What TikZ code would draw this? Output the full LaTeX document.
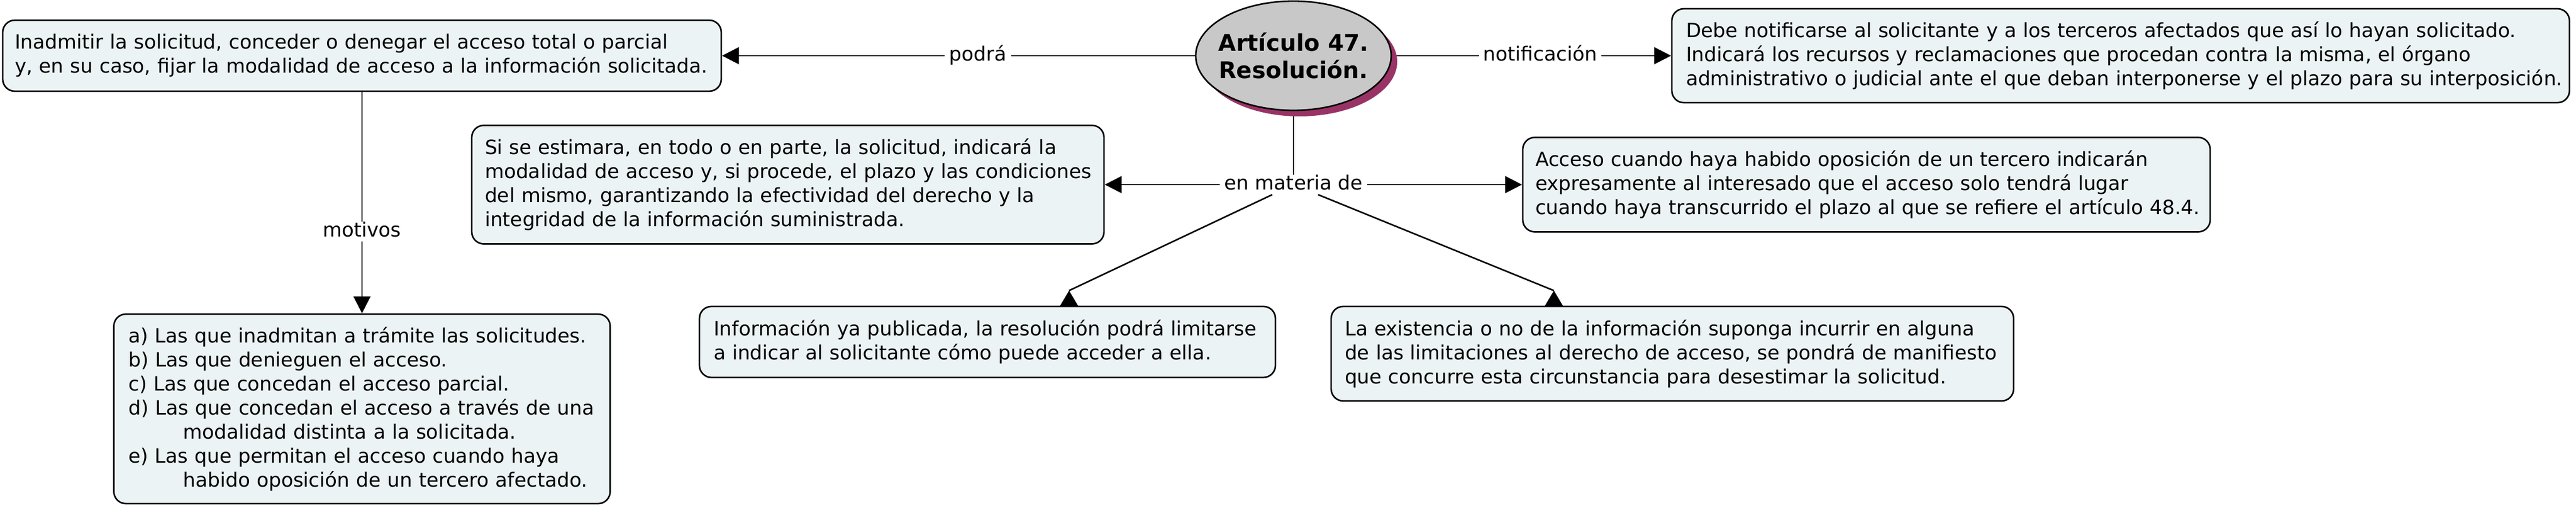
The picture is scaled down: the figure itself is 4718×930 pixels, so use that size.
\documentclass[tikz,border=0pt]{standalone}
\usepackage{fontspec}
\setmainfont{DejaVu Sans}
\usetikzlibrary{shapes.geometric,arrows.meta,shadows}
\definecolor{boxfill}{RGB}{236,243,245}
\definecolor{ellfill}{RGB}{200,200,200}
\definecolor{shadowc}{RGB}{153,51,102}
\pgfdeclarelayer{bg}
\pgfsetlayers{bg,main}
\newcommand\lnx[1]{\makebox[0pt][l]{#1}}
\newcommand\lnc[1]{\makebox[0pt][c]{#1}}
\begin{document}
\begin{tikzpicture}[x=0.5pt,y=-0.5pt,
  txt/.style={font=\fontsize{18pt}{22pt}\selectfont},
  cbox/.style={txt, draw, line width=1.4pt, fill=boxfill, rounded corners=11pt, align=left, inner ysep=0pt},
  lab/.style={txt, inner xsep=4pt, inner ysep=0pt, text height=13.7pt, text depth=4.3pt},
  conn/.style={line width=1.4pt},
  arr/.style={conn, -{Triangle[length=15.5pt,width=15.5pt]}},
  tip/.style={fill=black}
]
\useasboundingbox (0,0) rectangle (4718,930);
\begin{pgfonlayer}{bg}
\fill[white] (0,0) rectangle (4718,930);
\end{pgfonlayer}

\node[ellipse, draw, line width=1.4pt, fill=ellfill, minimum width=179pt, minimum height=100pt, inner sep=0pt, align=center,
  font=\bfseries\fontsize{21pt}{25pt}\selectfont,
  drop shadow={shadow xshift=5.5pt, shadow yshift=-5.5pt, fill=shadowc, opacity=1}] (ell) at (2369,102) {\lnc{Artículo 47.}\\\lnc{Resolución.}};

\node[cbox, inner xsep=11pt, text width=636pt, minimum height=65pt] (b1) at (663,102)
 {\lnx{Inadmitir la solicitud, conceder o denegar el acceso total o parcial}\\\lnx{y, en su caso, fijar la modalidad de acceso a la información solicitada.}};

\node[cbox, inner xsep=13pt, text width=796pt, minimum height=86pt] (b3) at (3884,102)
 {\lnx{Debe notificarse al solicitante y a los terceros afectados que así lo hayan solicitado.}\\\lnx{Indicará los recursos y reclamaciones que procedan contra la misma, el órgano}\\\lnx{administrativo o judicial ante el que deban interponerse y el plazo para su interposición.}};

\node[cbox, inner xsep=12pt, text width=555pt, minimum height=108.5pt] (b4) at (1443,338)
 {\lnx{Si se estimara, en todo o en parte, la solicitud, indicará la}\\\lnx{modalidad de acceso y, si procede, el plazo y las condiciones}\\\lnx{del mismo, garantizando la efectividad del derecho y la}\\\lnx{integridad de la información suministrada.}};

\node[cbox, inner xsep=11.5pt, text width=606.5pt, minimum height=86.5pt] (b5) at (3418.5,338)
 {\lnx{Acceso cuando haya habido oposición de un tercero indicarán}\\\lnx{expresamente al interesado que el acceso solo tendrá lugar}\\\lnx{cuando haya transcurrido el plazo al que se refiere el artículo 48.4.}};

\node[cbox, inner xsep=13.5pt, text width=427.5pt, minimum height=173.5pt] (b6) at (663,748.5)
 {\lnx{a) Las que inadmitan a trámite las solicitudes.}\\\lnx{b) Las que denieguen el acceso.}\\\lnx{c) Las que concedan el acceso parcial.}\\\lnx{d) Las que concedan el acceso a través de una}\\\lnx{\hspace*{50pt}modalidad distinta a la solicitada.}\\\lnx{e) Las que permitan el acceso cuando haya}\\\lnx{\hspace*{50pt}habido oposición de un tercero afectado.}};

\node[cbox, inner xsep=13pt, text width=501.5pt, minimum height=65pt] (b7) at (1808.5,626)
 {\lnx{Información ya publicada, la resolución podrá limitarse}\\\lnx{a indicar al solicitante cómo puede acceder a ella.}};

\node[cbox, inner xsep=12.5pt, text width=600pt, minimum height=86.5pt] (b8) at (3063,647.5)
 {\lnx{La existencia o no de la información suponga incurrir en alguna}\\\lnx{de las limitaciones al derecho de acceso, se pondrá de manifiesto}\\\lnx{que concurre esta circunstancia para desestimar la solicitud.}};

\node[lab] (podra) at (1791,102) {podrá};
\node[lab] (notif) at (2821,102) {notificación};
\node[lab] (emd) at (2369,338) {en materia de};
\node[lab] (motiv) at (663,424) {motivos};
\coordinate (t7) at (1958,532);
\coordinate (t8) at (2846,532);

\begin{pgfonlayer}{bg}
\draw[conn] (ell) -- (podra);
\draw[arr] (podra) -- (b1);
\draw[conn] (ell) -- (notif);
\draw[arr] (notif) -- (b3);
\draw[conn] (ell) -- (emd);
\draw[arr] (emd) -- (b4);
\draw[arr] (emd) -- (b5);
\draw[conn] (b1) -- (motiv);
\draw[arr] (motiv) -- (b6);
\draw[conn] (emd) -- (t7);
\draw[conn] (emd) -- (t8);
\end{pgfonlayer}
\fill[tip] (t7) -- ++(-17.5,29.5) -- ++(35,0) -- cycle;
\fill[tip] (t8) -- ++(-17.5,29.5) -- ++(35,0) -- cycle;
\end{tikzpicture}
\end{document}
